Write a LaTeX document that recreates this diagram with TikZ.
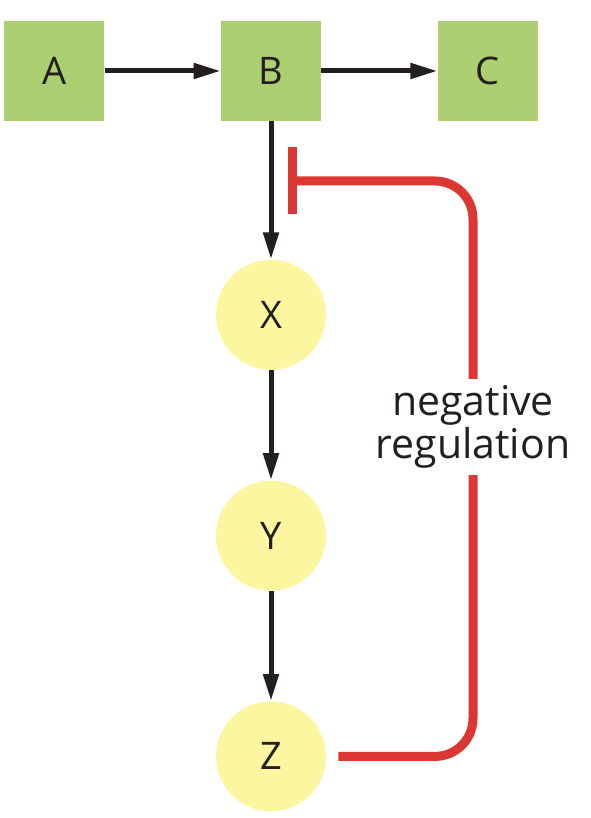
\documentclass[tikz,border=0pt]{standalone}
\usepackage{fontspec}
\setmainfont{Open Sans}
\usepackage{xcolor}
\usetikzlibrary{arrows.meta,positioning}

\definecolor{genegreen}{RGB}{172,207,114}
\definecolor{protyellow}{RGB}{253,246,160}
\definecolor{inkblack}{RGB}{35,31,32}
\definecolor{negred}{RGB}{220,55,50}

\begin{document}
\begin{tikzpicture}[
    gene/.style={rectangle, fill=genegreen, minimum width=50pt, minimum height=50pt,
      inner sep=0pt, font=\fontsize{19}{21.5}\selectfont, text=inkblack},
    prot/.style={circle, fill=protyellow, minimum size=55pt, inner sep=0pt,
      font=\fontsize{19}{21.5}\selectfont, text=inkblack},
    act/.style={-{Triangle[length=13.5pt, width=7.5pt]}, line width=2.5pt, draw=inkblack},
    inhib/.style={-{Bar[width=33.5pt]}, line width=4.5pt, draw=negred, rounded corners=19pt},
    note/.style={fill=white, align=center, inner xsep=2pt, inner ysep=3.5pt,
      font=\fontsize{20.5}{21.5}\selectfont, text=inkblack}
]
\useasboundingbox (-135.5pt,35.5pt) rectangle (159.5pt,-373.5pt);

\node[gene] (B) at (0,0) {B};
\node[gene, left=58pt of B] (A) {A};
\node[gene, right=58pt of B] (C) {C};
\node[prot, below=69pt of B] (X) {X};
\node[prot, below=55pt of X] (Y) {Y};
\node[prot, below=55pt of Y] (Z) {Z};

\draw[act] (A) -- (B);
\draw[act] (B) -- (C);
\draw[act] (B) -- (X);
\draw[act] (X) -- (Y);
\draw[act] (Y) -- (Z);

% feedback loop from Z back onto the B -> X step
\coordinate[below right=55pt and 101pt of B.center] (corner);
\coordinate[below right=55pt and 8.5pt of B.center] (stop);
\draw[inhib] ([xshift=6pt]Z.east) -| (corner) -- (stop);
\node[note] (neg) at ([yshift=-123pt]corner) {negative\\regulation};

\end{tikzpicture}
\end{document}
